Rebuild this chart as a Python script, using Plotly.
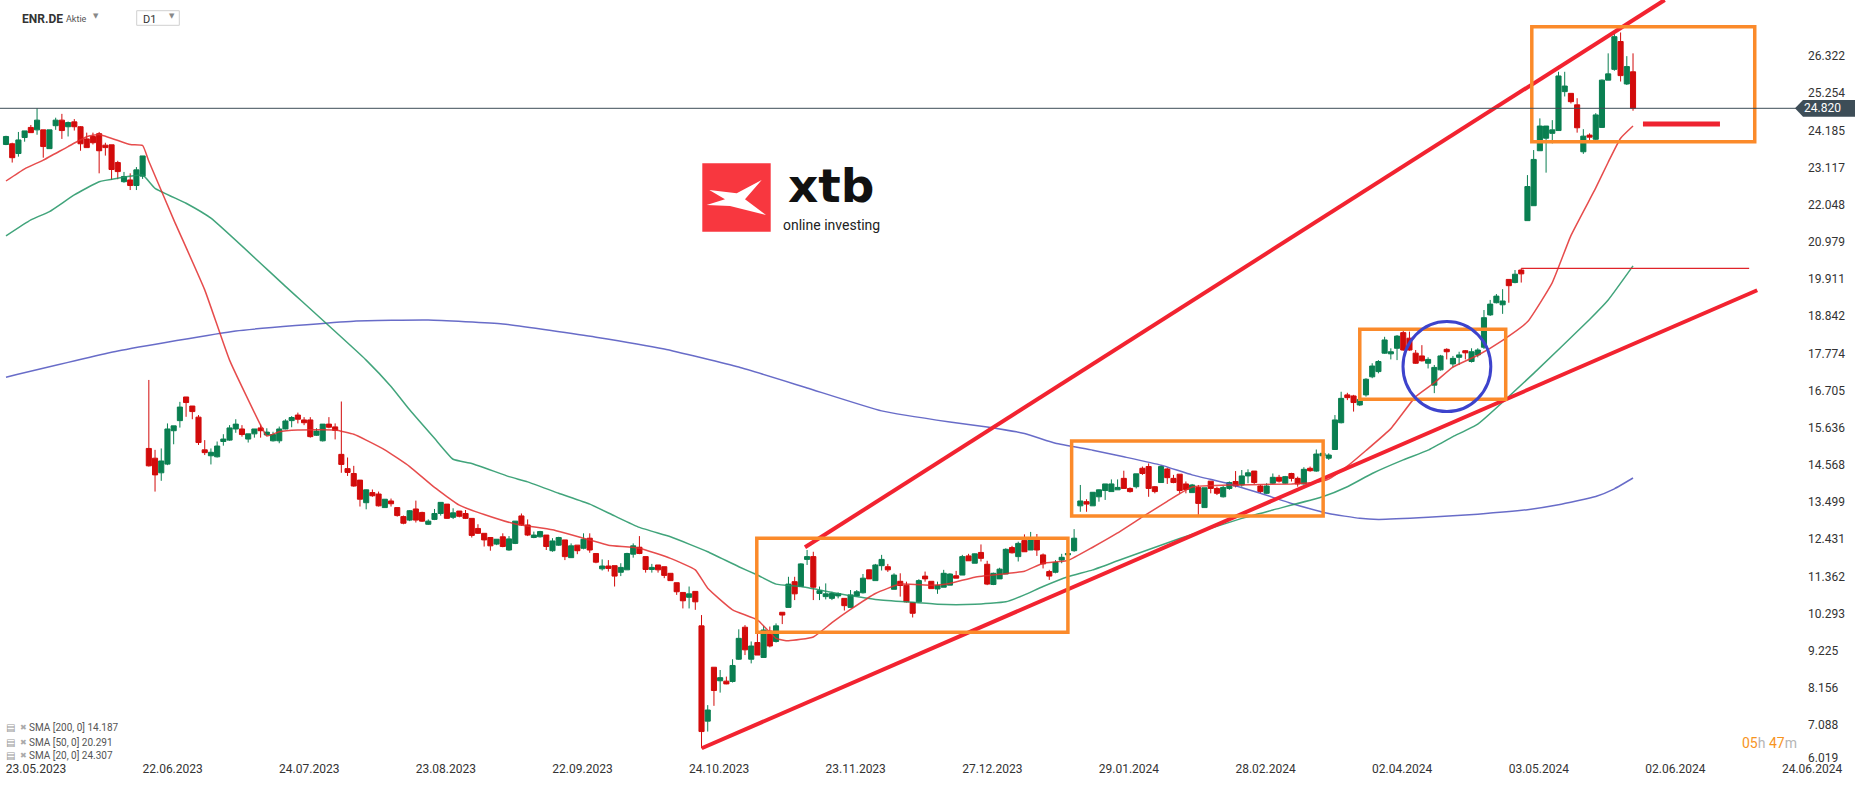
import plotly.graph_objects as go

# ---------------- data ----------------
open_ = [23.78, 23.80, 23.52, 23.98, 24.27, 24.20, 24.20, 23.66, 24.32, 24.48,
         24.29, 24.43, 24.29, 23.94, 24.01, 24.09, 23.76, 23.77, 23.26, 22.71,
         22.76, 22.60, 22.87, 15.04, 14.76, 14.34, 14.59, 15.55, 15.84, 16.52,
         16.26, 15.94, 15.00, 14.83, 14.80, 15.24, 15.28, 15.60, 15.60, 15.31,
         15.46, 15.63, 15.43, 15.26, 15.26, 15.60, 15.84, 16.00, 15.86, 15.86,
         15.42, 15.26, 15.74, 15.66, 14.87, 14.46, 14.32, 14.13, 13.48, 13.77,
         13.73, 13.34, 13.53, 13.34, 13.08, 12.98, 13.30, 13.20, 12.86, 13.00,
         13.17, 13.44, 13.06, 13.24, 13.17, 13.03, 12.74, 12.60, 12.48, 12.29,
         12.50, 12.12, 12.31, 13.10, 12.84, 12.48, 12.50, 12.55, 12.10, 12.26,
         12.41, 11.90, 12.26, 12.17, 12.46, 12.02, 11.58, 11.66, 11.67, 11.48,
         11.55, 12.00, 12.20, 11.93, 11.56, 11.69, 11.64, 11.45, 11.18, 10.90,
         10.76, 10.93, 9.94, 7.20, 8.75, 8.36, 8.35, 8.34, 8.98, 9.90,
         8.98, 9.46, 9.03, 9.79, 9.49, 10.33, 10.47, 11.21, 11.07, 11.85,
         11.93, 10.87, 10.78, 10.73, 10.80, 10.73, 10.47, 10.80, 10.89, 11.55,
         11.24, 11.67, 11.64, 10.99, 11.22, 11.11, 10.61, 10.63, 11.37, 11.22,
         11.00, 11.05, 11.11, 11.38, 11.40, 11.95, 11.74, 12.05, 11.71, 11.13,
         11.29, 11.43, 12.19, 11.93, 12.39, 12.12, 12.43, 11.98, 11.50, 11.48,
         11.83, 11.98, 12.10, 13.39, 13.51, 13.39, 13.65, 13.83, 13.80, 13.85,
         14.18, 13.89, 13.94, 14.47, 14.52, 13.94, 14.06, 14.45, 14.18, 14.30,
         14.02, 13.77, 13.92, 13.34, 14.10, 13.89, 13.65, 13.89, 14.09, 13.99,
         14.25, 14.39, 13.96, 13.75, 14.04, 14.21, 14.04, 14.32, 14.18, 14.02,
         14.47, 14.39, 14.83, 14.76, 15.01, 15.78, 16.58, 16.55, 16.29, 16.58,
         17.10, 17.25, 17.78, 17.76, 17.92, 18.37, 18.21, 17.78, 17.70, 17.49,
         16.86, 17.30, 17.89, 17.47, 17.66, 17.85, 17.54, 17.73, 17.95, 18.88,
         19.23, 19.17, 19.90, 19.81, 20.17, 21.59, 22.02, 23.60, 23.96, 24.10,
         24.18, 25.30, 25.25, 24.92, 23.57, 24.05, 23.93, 24.27, 25.63, 25.94,
         26.74, 25.52, 25.87]
high = [24.03, 23.83, 24.14, 24.17, 24.34, 24.82, 24.20, 24.20, 24.55, 24.66,
        24.44, 24.51, 24.31, 24.12, 24.12, 24.14, 23.83, 23.77, 23.31, 22.99,
        22.95, 23.13, 23.45, 17.01, 15.00, 15.04, 15.76, 15.69, 16.38, 16.52,
        16.26, 16.00, 15.28, 15.04, 15.24, 15.45, 15.71, 15.88, 15.71, 15.46,
        15.60, 15.73, 15.62, 15.52, 15.67, 15.88, 15.97, 16.07, 15.94, 15.94,
        15.62, 15.74, 15.94, 15.76, 16.39, 14.78, 14.54, 14.13, 13.86, 13.86,
        13.80, 13.58, 13.60, 13.34, 13.11, 13.27, 13.54, 13.22, 13.00, 13.30,
        13.49, 13.44, 13.32, 13.24, 13.27, 13.03, 12.86, 12.60, 12.48, 12.43,
        12.60, 12.52, 12.95, 13.17, 13.00, 12.65, 12.67, 12.55, 12.46, 12.50,
        12.41, 12.31, 12.26, 12.60, 12.60, 12.02, 11.85, 11.83, 11.67, 11.74,
        12.04, 12.31, 12.52, 11.93, 11.72, 11.69, 11.64, 11.45, 11.18, 10.90,
        11.07, 10.94, 10.25, 7.66, 8.75, 8.67, 8.48, 8.98, 9.84, 9.96,
        9.49, 9.72, 9.94, 9.92, 10.01, 10.33, 11.35, 11.35, 11.74, 12.12,
        12.07, 11.07, 11.16, 10.92, 10.90, 10.73, 10.97, 10.97, 11.43, 11.56,
        11.72, 11.98, 11.72, 11.45, 11.45, 11.21, 10.61, 11.28, 11.50, 11.22,
        11.21, 11.55, 11.45, 11.52, 11.98, 12.01, 12.02, 12.28, 11.81, 11.47,
        11.61, 12.17, 12.24, 12.36, 12.57, 12.64, 12.58, 12.02, 11.55, 11.83,
        12.01, 12.12, 12.72, 13.99, 13.58, 13.78, 13.86, 14.02, 14.15, 14.15,
        14.40, 13.92, 14.31, 14.52, 14.61, 13.96, 14.56, 14.49, 14.28, 14.30,
        14.09, 14.02, 13.99, 13.91, 14.10, 13.94, 13.96, 14.09, 14.39, 14.42,
        14.44, 14.39, 13.99, 14.04, 14.32, 14.28, 14.25, 14.34, 14.23, 14.50,
        14.52, 15.01, 14.92, 14.90, 16.00, 16.67, 16.64, 16.58, 16.63, 17.06,
        17.49, 17.58, 18.25, 17.92, 18.30, 18.43, 18.40, 17.87, 18.01, 17.66,
        17.44, 17.73, 17.92, 17.70, 17.82, 17.87, 17.92, 17.92, 19.02, 19.31,
        19.48, 19.62, 19.90, 20.17, 20.22, 22.90, 23.62, 24.53, 24.31, 24.48,
        25.87, 25.87, 25.25, 25.11, 24.22, 24.10, 24.68, 25.65, 26.40, 26.98,
        27.00, 26.32, 26.40]
low = [23.76, 23.26, 23.43, 23.86, 24.12, 24.06, 23.40, 23.66, 24.20, 23.94,
       24.01, 24.18, 23.60, 23.69, 23.78, 22.95, 23.46, 22.76, 22.78, 22.68,
       22.47, 22.47, 22.79, 14.52, 13.80, 14.11, 14.56, 15.16, 15.64, 15.95,
       15.88, 15.14, 14.85, 14.58, 14.78, 15.12, 15.26, 15.49, 15.38, 15.21,
       15.35, 15.35, 15.40, 15.24, 15.19, 15.59, 15.65, 15.76, 15.71, 15.35,
       15.40, 15.24, 15.62, 15.30, 14.34, 14.25, 13.94, 13.37, 13.29, 13.65,
       13.37, 13.34, 13.37, 13.08, 12.86, 12.95, 12.91, 12.93, 12.84, 12.98,
       13.11, 13.02, 13.01, 13.06, 13.01, 12.48, 12.58, 12.22, 12.10, 12.26,
       12.20, 12.10, 12.29, 12.81, 12.52, 12.46, 12.48, 12.12, 12.07, 12.24,
       11.83, 11.89, 12.00, 12.14, 12.04, 11.74, 11.53, 11.50, 11.07, 11.37,
       11.55, 11.90, 12.00, 11.47, 11.47, 11.47, 11.31, 11.23, 10.83, 10.44,
       10.44, 10.40, 6.42, 6.90, 7.64, 8.02, 8.26, 8.31, 8.96, 9.10,
       8.86, 9.10, 9.03, 9.32, 9.46, 9.99, 10.47, 10.68, 11.07, 11.69,
       10.68, 10.68, 10.70, 10.68, 10.73, 10.38, 10.47, 10.78, 10.87, 11.29,
       11.24, 11.53, 11.49, 10.99, 10.78, 10.61, 10.18, 10.61, 11.21, 11.01,
       10.86, 11.05, 11.11, 11.31, 11.40, 11.81, 11.74, 11.79, 11.11, 11.11,
       11.29, 11.43, 12.02, 11.79, 12.07, 12.12, 11.95, 11.59, 11.26, 11.45,
       11.74, 11.98, 12.07, 13.22, 13.22, 13.39, 13.51, 13.56, 13.80, 13.85,
       13.89, 13.77, 13.89, 14.28, 13.65, 13.75, 14.06, 14.02, 14.04, 13.75,
       13.75, 13.77, 13.13, 13.34, 13.75, 13.70, 13.63, 13.85, 13.92, 13.94,
       14.04, 14.02, 13.75, 13.73, 14.02, 14.06, 14.02, 14.09, 13.94, 14.00,
       14.37, 14.37, 14.80, 14.71, 15.00, 15.76, 16.43, 16.10, 16.26, 16.53,
       17.06, 17.20, 17.76, 17.60, 17.58, 17.85, 17.85, 17.47, 17.54, 17.34,
       16.63, 17.28, 17.60, 17.37, 17.44, 17.60, 17.51, 17.66, 17.90, 18.85,
       19.21, 18.91, 19.23, 19.79, 19.81, 21.59, 22.02, 23.60, 22.97, 23.81,
       24.18, 25.16, 24.96, 24.12, 23.51, 23.91, 23.91, 24.26, 25.63, 25.90,
       25.59, 25.49, 24.75]
close = [24.01, 23.40, 23.91, 24.17, 24.12, 24.48, 23.72, 24.20, 24.48, 24.18,
         24.41, 24.29, 23.80, 23.69, 23.83, 23.60, 23.69, 23.06, 23.00, 22.86,
         22.60, 23.05, 23.45, 14.54, 14.28, 14.68, 15.60, 15.69, 16.23, 16.36,
         16.10, 15.21, 14.92, 14.93, 15.11, 15.31, 15.63, 15.74, 15.44, 15.46,
         15.60, 15.55, 15.51, 15.44, 15.60, 15.83, 15.93, 15.88, 15.78, 15.38,
         15.54, 15.74, 15.65, 15.56, 14.58, 14.35, 13.96, 13.58, 13.85, 13.68,
         13.39, 13.58, 13.45, 13.11, 12.89, 13.25, 12.98, 12.95, 12.95, 13.17,
         13.49, 13.03, 13.19, 13.09, 13.03, 12.54, 12.60, 12.41, 12.24, 12.43,
         12.22, 12.44, 12.95, 12.84, 12.55, 12.55, 12.65, 12.22, 12.38, 12.48,
         11.93, 12.24, 12.10, 12.43, 12.12, 11.77, 11.66, 11.59, 11.37, 11.62,
         12.02, 12.24, 12.02, 11.56, 11.62, 11.55, 11.39, 11.24, 10.92, 10.66,
         10.86, 10.63, 6.90, 7.52, 8.08, 8.45, 8.27, 8.80, 9.58, 9.25,
         9.36, 9.10, 9.82, 9.36, 9.94, 10.25, 11.14, 10.86, 11.72, 11.93,
         11.05, 10.95, 10.86, 10.87, 10.87, 10.52, 10.83, 10.92, 11.31, 11.29,
         11.69, 11.85, 11.55, 11.40, 11.10, 10.63, 10.30, 11.24, 11.29, 11.01,
         11.10, 11.45, 11.43, 11.31, 11.93, 11.81, 12.01, 11.88, 11.14, 11.45,
         11.57, 12.14, 12.04, 12.31, 12.07, 12.43, 12.12, 11.72, 11.37, 11.76,
         11.91, 12.02, 12.46, 13.53, 13.44, 13.78, 13.85, 14.02, 14.02, 13.92,
         13.89, 13.80, 14.31, 14.32, 13.89, 13.80, 14.52, 14.20, 14.06, 13.83,
         13.86, 13.99, 13.46, 13.91, 13.89, 13.75, 13.92, 14.06, 13.96, 14.25,
         14.34, 14.06, 13.80, 13.96, 14.21, 14.10, 14.23, 14.18, 14.02, 14.44,
         14.40, 14.88, 14.90, 14.85, 15.86, 16.48, 16.50, 16.36, 16.45, 17.03,
         17.41, 17.54, 18.16, 17.82, 18.27, 17.87, 17.87, 17.49, 17.56, 17.60,
         17.37, 17.70, 17.82, 17.63, 17.73, 17.79, 17.82, 17.87, 18.80, 19.19,
         19.42, 19.28, 19.72, 20.05, 20.06, 22.57, 23.35, 24.31, 24.31, 24.20,
         25.75, 25.46, 25.01, 24.26, 24.02, 23.99, 24.63, 25.63, 25.81, 26.88,
         25.76, 26.02, 24.82]

# moving averages read at sample bars
sma20_bar = [0, 3, 6, 10, 13, 15, 20, 22, 23, 27, 32, 36, 41, 42, 44, 47, 53, 56,
             58, 61, 65, 69, 73, 77, 82, 88, 94, 97, 102, 107, 111, 113, 117, 121,
             124, 126, 130, 133, 136, 140, 144, 149, 152, 156, 161, 164, 167, 171,
             175, 179, 183, 187, 191, 198, 207, 211, 213, 216, 219, 223, 227, 230,
             233, 237, 241, 245, 249, 252, 256, 258, 260, 262]
sma20_val = [22.73, 23.08, 23.33, 23.72, 24.00, 24.07, 23.78, 23.75, 23.30, 21.62,
             19.60, 17.58, 15.71, 15.40, 15.52, 15.57, 15.57, 15.45, 15.28, 15.00,
             14.52, 13.92, 13.41, 13.14, 12.87, 12.70, 12.41, 12.26, 12.17, 11.88,
             11.55, 11.02, 10.40, 10.11, 9.58, 9.51, 9.62, 10.03, 10.41, 10.87,
             11.14, 11.11, 11.16, 11.34, 11.44, 11.51, 11.74, 11.82, 12.20, 12.61,
             13.07, 13.52, 13.93, 13.99, 14.02, 14.07, 14.16, 14.53, 14.98, 15.61,
             16.53, 16.93, 17.38, 17.72, 18.15, 18.68, 19.81, 21.16, 22.53, 23.27,
             23.96, 24.31]
sma50_bar = [0, 4, 7, 11, 15, 18, 22, 24, 29, 33, 45, 58, 62, 65, 69, 72, 75, 81,
             84, 89, 94, 98, 102, 107, 110, 113, 118, 121, 124, 128, 134, 140, 145,
             150, 156, 161, 164, 167, 171, 175, 179, 189, 199, 204, 212, 216, 220,
             225, 229, 233, 237, 246, 255, 258, 262]
sma50_val = [21.15, 21.61, 21.85, 22.33, 22.71, 22.81, 22.90, 22.52, 22.09, 21.66,
             19.70, 17.58, 16.82, 16.15, 15.33, 14.73, 14.61, 14.23, 14.08, 13.75,
             13.44, 13.10, 12.77, 12.50, 12.29, 12.07, 11.64, 11.40, 11.14, 11.07,
             10.87, 10.70, 10.63, 10.56, 10.56, 10.63, 10.83, 11.07, 11.35, 11.55,
             11.81, 12.45, 13.03, 13.27, 13.65, 13.94, 14.32, 14.71, 14.99, 15.38,
             15.74, 17.20, 18.75, 19.31, 20.29]
sma200_bar = [0, 18, 37, 56, 68, 80, 95, 106, 118, 129, 141, 152, 158, 164, 169,
              175, 180, 186, 191, 197, 202, 207, 213, 218, 221, 229, 237, 245, 250,
              256, 259, 262]
sma200_val = [17.09, 17.84, 18.42, 18.70, 18.73, 18.62, 18.24, 17.90, 17.38, 16.78,
              16.12, 15.80, 15.66, 15.47, 15.19, 14.99, 14.80, 14.56, 14.28, 14.02,
              13.75, 13.46, 13.17, 13.03, 13.00, 13.06, 13.15, 13.28, 13.42, 13.66,
              13.88, 14.19]

date_tick_bar = [0, 22, 44, 66, 88, 110, 132, 154, 176, 198, 220, 242, 264, 286]
date_tick_text = ['23.05.2023', '22.06.2023', '24.07.2023', '23.08.2023', '22.09.2023',
                  '24.10.2023', '23.11.2023', '27.12.2023', '29.01.2024', '28.02.2024',
                  '02.04.2024', '03.05.2024', '02.06.2024', '24.06.2024']
price_ticks = [26.322, 25.254, 24.185, 23.117, 22.048, 20.979, 19.911, 18.842, 17.774,
               16.705, 15.636, 14.568, 13.499, 12.431, 11.362, 10.293, 9.225, 8.156,
               7.088]
last_price = 24.820
sma_legend = [('SMA [200, 0]', 14.187), ('SMA [50, 0]', 20.291), ('SMA [20, 0]', 24.307)]

# ---------------- layout geometry ----------------
W, H = 1866, 787
ML, MR, MT, MB = 0, 69, 0, 27
PW, PH = W - ML - MR, H - MT - MB
BAR0, BARW = 6.0, 6.21          # pixel x of bar 0, pixel per bar
PX_PER_UNIT = 34.78
Y_TOP = 27.934

X0 = (0 - BAR0) / BARW
X1 = (PW - BAR0) / BARW
Y0 = Y_TOP - PH / PX_PER_UNIT


def px(x):
    return (x - ML) / PW


def py(y):
    return 1 - (y - MT) / PH


GREEN = '#0a7f51'
RED = '#d20b0b'
FONT = 'Roboto'

fig = go.Figure()

fig.add_trace(go.Scatter(x=sma200_bar, y=sma200_val, mode='lines',
                         line=dict(color='rgba(78,82,190,0.85)', width=1.5, shape='spline', smoothing=0.4),
                         hoverinfo='skip', showlegend=False))
fig.add_trace(go.Scatter(x=sma50_bar, y=sma50_val, mode='lines',
                         line=dict(color='rgba(32,148,100,0.85)', width=1.5, shape='spline', smoothing=0.4),
                         hoverinfo='skip', showlegend=False))
fig.add_trace(go.Scatter(x=sma20_bar, y=sma20_val, mode='lines',
                         line=dict(color='rgba(226,45,45,0.85)', width=1.5, shape='spline', smoothing=0.4),
                         hoverinfo='skip', showlegend=False))

fig.add_trace(go.Candlestick(
    x=list(range(len(open_))), open=open_, high=high, low=low, close=close,
    increasing=dict(line=dict(color=GREEN, width=1), fillcolor=GREEN),
    decreasing=dict(line=dict(color=RED, width=1), fillcolor=RED),
    whiskerwidth=0, showlegend=False, hoverinfo='skip'))

shapes = []
# trend lines
shapes.append(dict(type='line', xref='x', yref='y', x0=128.66, y0=12.198, x1=267.1, y1=12.198 + (267.1 - 128.66) * 0.11368,
                   line=dict(color='#f22330', width=4)))
shapes.append(dict(type='line', xref='x', yref='y', x0=112.03, y0=6.419, x1=282, y1=6.419 + (282 - 112.03) * 0.07749,
                   line=dict(color='#f22330', width=4)))
# orange boxes
for (a, b, c, d) in [(120.9, 171.0, 9.754, 12.457), (171.6, 212.1, 13.098, 15.254),
                     (218.0, 241.5, 16.453, 18.466), (245.7, 281.6, 23.860, 27.166)]:
    shapes.append(dict(type='rect', xref='x', yref='y', x0=a, x1=b, y0=c, y1=d,
                       line=dict(color='#fb8a2a', width=3.5)))
# blue circle
shapes.append(dict(type='circle', xref='x', yref='y', x0=224.96, x1=239.1, y0=16.10, y1=18.69,
                   line=dict(color='#3d43cc', width=3)))
# thin red level line
shapes.append(dict(type='line', xref='x', yref='y', x0=244, x1=280.7, y0=20.219, y1=20.219,
                   line=dict(color='#e0242a', width=1.2)))
# short thick red line
shapes.append(dict(type='line', xref='x', yref='y', x0=263.6, x1=276.0, y0=24.369, y1=24.369,
                   line=dict(color='#ee2330', width=5)))
# last price line
shapes.append(dict(type='line', xref='paper', yref='y', x0=0, x1=1, y0=last_price, y1=last_price,
                   line=dict(color='#3d4d57', width=1)))
# price tag
shapes.append(dict(type='path', xref='paper', yref='paper',
                   path=f'M {px(1795)},{py(108.3)} L {px(1803)},{py(100)} L {px(1855)},{py(100)} '
                        f'L {px(1855)},{py(116.7)} L {px(1803)},{py(116.7)} Z',
                   fillcolor='#3d4d57', line=dict(width=0)))
# xtb logo square and mark
shapes.append(dict(type='rect', xref='paper', yref='paper', x0=px(702.3), x1=px(770.7), y0=py(231.7), y1=py(163.3),
                   fillcolor='#f8373f', line=dict(width=0)))
mark = [(709.3, 190), (736.7, 193.3), (761.7, 180), (745, 199.3), (766, 215), (730, 206),
        (706.7, 205), (725, 199.3)]
path = 'M ' + ' L '.join(f'{px(a)},{py(b)}' for a, b in mark) + ' Z'
shapes.append(dict(type='path', xref='paper', yref='paper', path=path, fillcolor='white', line=dict(width=0)))
# timeframe box
shapes.append(dict(type='rect', xref='paper', yref='paper', x0=px(136.7), x1=px(179.3), y0=py(25.3), y1=py(10.7),
                   fillcolor='white', line=dict(color='#d0d0d0', width=1)))

ann = []


def text(x, y, s, size=12, color='#333', anchor='left', weight=None, family=FONT):
    f = dict(family=family, size=size, color=color)
    if weight:
        f['weight'] = weight
    ann.append(dict(x=px(x), y=py(y), xref='paper', yref='paper', text=s, showarrow=False,
                    xanchor=anchor, yanchor='middle', font=f, borderpad=0))


# header
text(20.7, 19.3, 'ENR.DE', size=12, color='#333', weight='bold')
text(65, 19.5, 'Aktie', size=9, color='#555')
text(96, 16, '▼', size=7, color='#888', anchor='center', family='DejaVu Sans')
text(141.7, 19.5, 'D1', size=11, color='#333')
text(171.7, 16, '▼', size=7, color='#888', anchor='center', family='DejaVu Sans')
# logo text
text(830.5, 185.5, 'xtb', size=47, color='#111', anchor='center', weight='bold', family='DejaVu Sans')
text(831.7, 224.5, 'online investing', size=14, color='#222', anchor='center')
# price tag text
text(1803, 108.5, f'{last_price:.3f}', size=12, color='white')
# bottom price label (clamped in the reference)
text(1807, 757.7, '6.019', size=12, color='#333')
# indicator legend
for k, (name, val) in enumerate(sma_legend):
    yy = [727.3, 742.3, 755.7][k]
    text(4.5, yy, '▤', size=10, color='#999', family='DejaVu Sans')
    text(18.5, yy, '✖', size=8, color='#aaa', family='DejaVu Sans')
    text(27.7, yy, f'{name} {val:.3f}', size=10, color='#555')
# countdown
ann.append(dict(x=px(1740), y=py(742.7), xref='paper', yref='paper', showarrow=False, xanchor='left',
                yanchor='middle', font=dict(family=FONT, size=14),
                text="<span style='color:#f7941d'>05</span><span style='color:#b5b5b5'>h</span> "
                     "<span style='color:#f7941d'>47</span><span style='color:#b5b5b5'>m</span>"))

fig.update_layout(
    width=W, height=H, margin=dict(l=ML, r=MR, t=MT, b=MB, autoexpand=False),
    paper_bgcolor='white', plot_bgcolor='white', showlegend=False,
    boxgap=0.18, boxgroupgap=0.0,
    shapes=shapes, annotations=ann,
    font=dict(family=FONT, size=12, color='#333'),
    xaxis=dict(range=[X0, X1], tickvals=date_tick_bar, ticktext=date_tick_text, ticklabelshift=30,
               showgrid=False, zeroline=False, showline=False, ticks='', rangeslider=dict(visible=False),
               tickfont=dict(family=FONT, size=12, color='#333'), fixedrange=True, automargin=False),
    yaxis=dict(range=[Y0, Y_TOP], side='right', tickvals=price_ticks, ticktext=[f'{v:.3f}' for v in price_ticks],
               showgrid=False, zeroline=False, showline=False, ticks='', ticklabelstandoff=10,
               tickfont=dict(family=FONT, size=12, color='#333'), fixedrange=True, automargin=False),
)

fig.write_html('out.html', config={'displayModeBar': False},
               post_script="document.body.style.margin='0';document.body.style.overflow='hidden';")
